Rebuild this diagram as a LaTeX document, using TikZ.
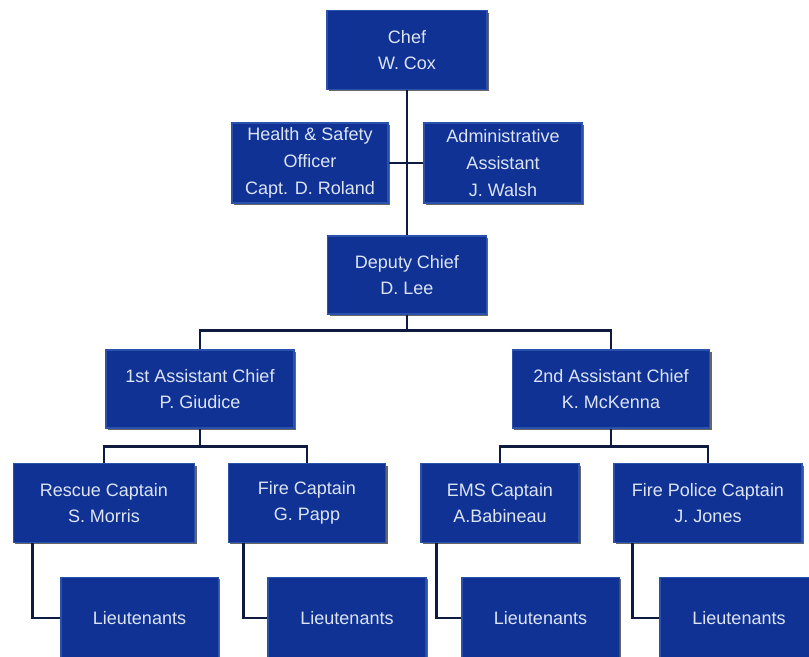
\documentclass[tikz,border=0pt]{standalone}
\usepackage{fontspec}
\setmainfont{Liberation Sans}
\usetikzlibrary{positioning,calc,shadows}
\definecolor{boxblue}{RGB}{16,50,148}
\definecolor{boxedge}{RGB}{42,82,172}
\definecolor{linknavy}{RGB}{14,26,62}
\definecolor{boxtext}{RGB}{220,228,245}
\tikzset{
  box/.style={draw=boxedge,line width=1pt,fill=boxblue,text=boxtext,inner sep=0pt,align=center,
              font=\fontsize{13.5}{20}\selectfont,
              drop shadow={shadow xshift=1.4pt,shadow yshift=-1.4pt,opacity=0.6,fill=black}},
  link/.style={draw=linknavy,line width=2.2pt},
}
\begin{document}
\begin{tikzpicture}[x=0.75pt,y=-0.75pt]
  \useasboundingbox (0,0) rectangle (809,656);
  \clip (0,0) rectangle (809,656);
  % top of the chart
  \node[box,minimum width=120pt,minimum height=59pt] (chef) at (407,50) {Chef\\ W. Cox};
  \node[box,minimum width=117pt,minimum height=60pt] (hs) at (310,163) {Health \& Safety\\ Officer\\ Capt. D. Roland};
  \node[box,minimum width=118.5pt,minimum height=60pt] (admin) at (503,163) {Administrative\\ Assistant\\ J. Walsh};
  \node[box,minimum width=119pt,minimum height=58.5pt] (deputy) at (407,275) {Deputy Chief\\ D. Lee};
  % assistant chiefs
  \node[box,minimum width=141pt,minimum height=58.5pt] (asstA) at (200,389) {1st Assistant Chief\\ P. Giudice};
  \node[box,minimum width=148pt,minimum height=58.5pt] (asstB) at (611,389) {2nd Assistant Chief\\ K. McKenna};
  % captains
  \node[box,minimum width=136pt,minimum height=59pt] (rescue) at (104,503) {Rescue Captain\\ S. Morris};
  \node[box,minimum width=118pt,minimum height=59pt] (fire) at (307,503) {Fire Captain\\ G. Papp};
  \node[box,minimum width=118.5pt,minimum height=59pt] (ems) at (500,503) {EMS Captain\\ A.Babineau};
  \node[box,minimum width=141pt,minimum height=59pt] (firepol) at (708,503) {Fire Police Captain\\ J. Jones};
  % lieutenants
  \node[box,minimum width=118pt,minimum height=61pt] (ltA) at (139.5,618) {Lieutenants};
  \node[box,minimum width=118.5pt,minimum height=61pt] (ltB) at (347,618) {Lieutenants};
  \node[box,minimum width=118pt,minimum height=61pt] (ltC) at (540.5,618) {Lieutenants};
  \node[box,minimum width=118.5pt,minimum height=61pt] (ltD) at (739,618) {Lieutenants};

  \draw[link] (chef.south) -- (deputy.north);
  \draw[link] (hs.east) -- (admin.west);
  \draw[link] (deputy.south) -- ++(0,16) -| (asstA.north);
  \draw[link] (deputy.south) -- ++(0,16) -| (asstB.north);
  \draw[link] (asstA.south) -- ++(0,18) -| (rescue.north);
  \draw[link] (asstA.south) -- ++(0,18) -| (fire.north);
  \draw[link] (asstB.south) -- ++(0,18) -| (ems.north);
  \draw[link] (asstB.south) -- ++(0,18) -| (firepol.north);
  \draw[link] ($(rescue.south west)+(20,0)$) |- (ltA.west);
  \draw[link] ($(fire.south west)+(16,0)$) |- (ltB.west);
  \draw[link] ($(ems.south west)+(16,0)$) |- (ltC.west);
  \draw[link] ($(firepol.south west)+(19,0)$) |- (ltD.west);
\end{tikzpicture}
\end{document}
